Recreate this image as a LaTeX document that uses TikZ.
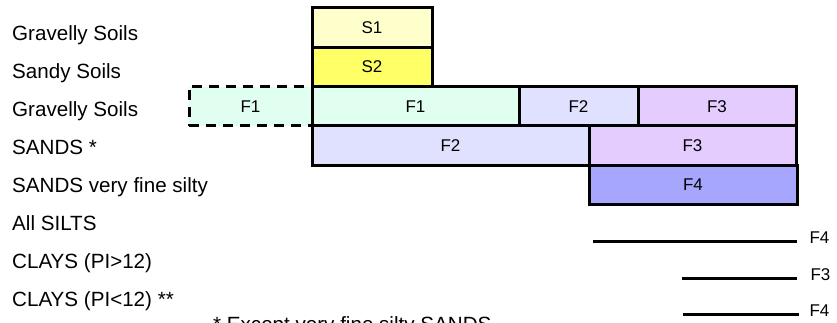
\documentclass[tikz,border=0pt]{standalone}
\usepackage{fontspec}
\setmainfont{Liberation Sans}
\usetikzlibrary{positioning}

\definecolor{sonefill}{HTML}{FFFFCC}
\definecolor{stwofill}{HTML}{FFFF66}
\definecolor{fonefill}{HTML}{E0FFF0}
\definecolor{ftwofill}{HTML}{E0E0FF}
\definecolor{fthreefill}{HTML}{E5CCFF}
\definecolor{ffourfill}{HTML}{A6A6FF}

\begin{document}
\begin{tikzpicture}[
		x=1pt,
		y=-1pt,
		zone/.style={
			draw,
			line width=3pt,
			minimum height=39.3pt,
			inner sep=0pt,
			font=\fontsize{17}{20}\selectfont
		},
		soil/.style={
			anchor=base west,
			inner sep=0pt,
			font=\fontsize{20.6}{24}\selectfont
		},
		tag/.style={
			font=\fontsize{17}{20}\selectfont,
			yshift=3pt
		},
		bar/.style={line width=3pt}
		]
		
		\useasboundingbox (0,0) rectangle (837,323);
		
		%--------------------------------------------------
		% Soil names
		%--------------------------------------------------
		
		\node[soil] (gravelA) at (12,40.7) {Gravelly Soils};
		\node[soil] (sandy) at (12,78.7) {Sandy Soils};
		\node[soil] (gravelB) at (12,116.7) {Gravelly Soils};
		\node[soil] (sands) at (12,154.7) {SANDS *};
		\node[soil] (finesands) at (12,192.7) {SANDS very fine silty};
		\node[soil] (silts) at (12,230.7) {All SILTS};
		\node[soil] (claysHi) at (12,268.7) {CLAYS (PI>12)};
		\node[soil] (claysLo) at (12,306.7) {CLAYS (PI<12) **};
		
		\node[soil] (footnote) at (213,331.7) {* Except very fine silty SANDS};
		
		%--------------------------------------------------
		% Classes
		%--------------------------------------------------
		
		\node[zone, fill=sonefill, minimum width=120pt] (sOne) at (372,27.65) {S1};
		\node[zone, fill=stwofill, minimum width=120pt] (sTwo) at (372,66.95) {S2};
		
		\node[zone, fill=fonefill, dashed, dash pattern=on 10pt off 7pt, minimum width=123pt]
		(fOneExt) at (250.5,106.25) {F1};
		\node[zone, fill=fonefill, minimum width=207pt] (fOneG) at (415.5,106.25) {F1};
		\node[zone, fill=ftwofill, minimum width=119pt] (fTwoG) at (578.5,106.25) {F2};
		\node[zone, fill=fthreefill, minimum width=158pt] (fThreeG) at (717,106.25) {F3};
		
		\node[zone, fill=ftwofill, minimum width=277pt] (fTwoS) at (450.5,145.55) {F2};
		\node[zone, fill=fthreefill, minimum width=207pt] (fThreeS) at (692.5,145.55) {F3};
		
		\node[zone, fill=ffourfill, minimum width=208pt] (fFourS) at (693,184.85) {F4};
		
		%--------------------------------------------------
		% Fine soils
		%--------------------------------------------------
		
		\coordinate (siltA) at (593,241);
		\coordinate (siltB) at (797,241);
		\coordinate (clayHiA) at (682,278);
		\coordinate (clayHiB) at (797,278);
		\coordinate (clayLoA) at (683,314);
		\coordinate (clayLoB) at (799,314);
		
		\draw[bar] (siltA) -- (siltB);
		\draw[bar] (clayHiA) -- (clayHiB);
		\draw[bar] (clayLoA) -- (clayLoB);
		
		\node[tag, right=9pt of siltB] (siltTag) {F4};
		\node[tag, right=10pt of clayHiB] (clayHiTag) {F3};
		\node[tag, right=7pt of clayLoB] (clayLoTag) {F4};
		
	\end{tikzpicture}
\end{document}
